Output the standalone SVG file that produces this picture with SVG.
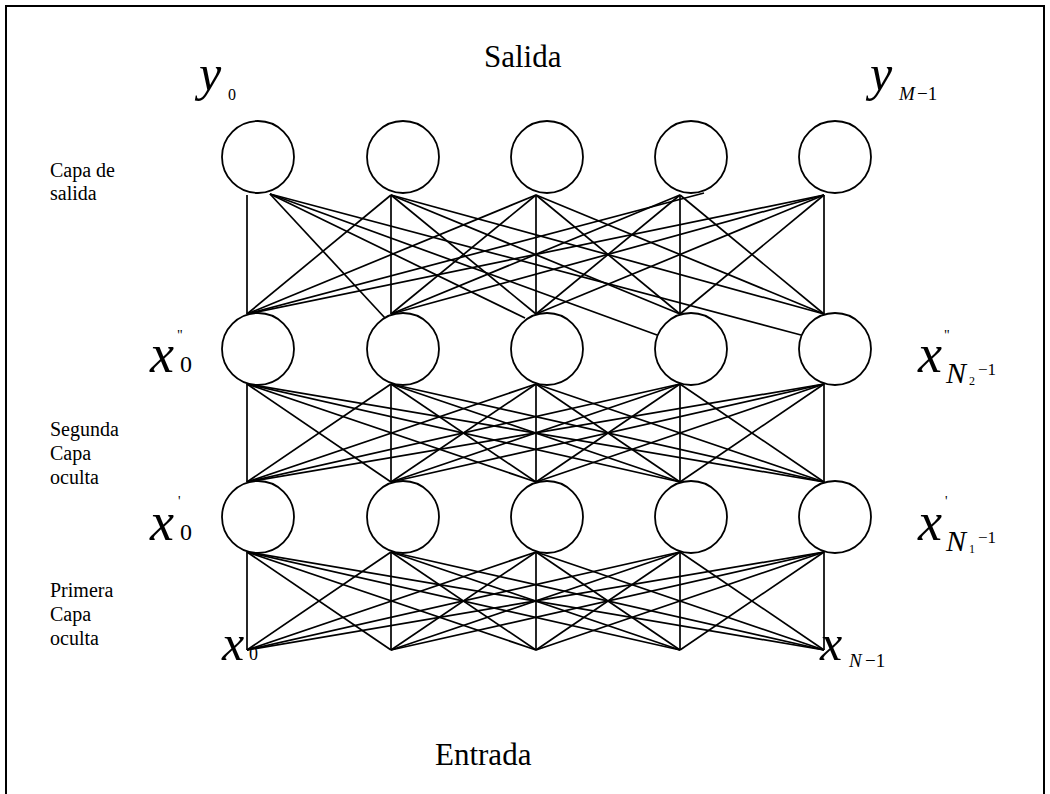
<svg xmlns="http://www.w3.org/2000/svg" width="1050" height="794" viewBox="0 0 1050 794">
<style>
.n{fill:#fff;stroke:#000;stroke-width:1.8}
.c line{stroke:#000;stroke-width:1.7}
.t{font-family:"Liberation Serif","Times New Roman",serif;fill:#000}
.i{font-style:italic}
</style>
<rect x="0" y="0" width="1050" height="794" fill="#fff"/>
<rect x="6" y="6" width="1038" height="800" fill="none" stroke="#000" stroke-width="2"/>
<g id="connectors" class="c">
<!-- output to second hidden -->
<line x1="247" y1="195" x2="247" y2="314"/>
<line x1="270" y1="194" x2="385" y2="318"/>
<line x1="270" y1="194" x2="525" y2="318"/>
<line x1="270" y1="194" x2="657" y2="335"/>
<line x1="270" y1="194" x2="801" y2="335"/>
<line x1="391" y1="195" x2="247" y2="314"/>
<line x1="391" y1="195" x2="391" y2="314"/>
<line x1="391" y1="195" x2="536" y2="314"/>
<line x1="391" y1="195" x2="680" y2="314"/>
<line x1="391" y1="195" x2="824" y2="314"/>
<line x1="536" y1="195" x2="247" y2="314"/>
<line x1="536" y1="195" x2="391" y2="314"/>
<line x1="536" y1="195" x2="536" y2="314"/>
<line x1="536" y1="195" x2="680" y2="314"/>
<line x1="536" y1="195" x2="824" y2="314"/>
<line x1="704" y1="193" x2="247" y2="314"/>
<line x1="680" y1="195" x2="391" y2="314"/>
<line x1="680" y1="195" x2="536" y2="314"/>
<line x1="680" y1="195" x2="680" y2="314"/>
<line x1="680" y1="195" x2="824" y2="314"/>
<line x1="824" y1="195" x2="247" y2="314"/>
<line x1="824" y1="195" x2="391" y2="314"/>
<line x1="824" y1="195" x2="536" y2="314"/>
<line x1="824" y1="195" x2="680" y2="314"/>
<line x1="824" y1="195" x2="824" y2="314"/>
<!-- second hidden to first hidden -->
<line x1="247" y1="384" x2="247" y2="482"/>
<line x1="247" y1="384" x2="391" y2="482"/>
<line x1="247" y1="384" x2="536" y2="482"/>
<line x1="247" y1="384" x2="680" y2="482"/>
<line x1="247" y1="384" x2="824" y2="482"/>
<line x1="391" y1="384" x2="247" y2="482"/>
<line x1="391" y1="384" x2="391" y2="482"/>
<line x1="391" y1="384" x2="536" y2="482"/>
<line x1="391" y1="384" x2="680" y2="482"/>
<line x1="391" y1="384" x2="824" y2="482"/>
<line x1="536" y1="384" x2="247" y2="482"/>
<line x1="536" y1="384" x2="391" y2="482"/>
<line x1="536" y1="384" x2="536" y2="482"/>
<line x1="536" y1="384" x2="680" y2="482"/>
<line x1="536" y1="384" x2="824" y2="482"/>
<line x1="680" y1="384" x2="247" y2="482"/>
<line x1="680" y1="384" x2="391" y2="482"/>
<line x1="680" y1="384" x2="536" y2="482"/>
<line x1="680" y1="384" x2="680" y2="482"/>
<line x1="680" y1="384" x2="824" y2="482"/>
<line x1="824" y1="384" x2="247" y2="482"/>
<line x1="824" y1="384" x2="391" y2="482"/>
<line x1="824" y1="384" x2="536" y2="482"/>
<line x1="824" y1="384" x2="680" y2="482"/>
<line x1="824" y1="384" x2="824" y2="482"/>
<!-- first hidden to input -->
<line x1="247" y1="552" x2="247" y2="650"/>
<line x1="247" y1="552" x2="391" y2="650"/>
<line x1="247" y1="552" x2="536" y2="650"/>
<line x1="247" y1="552" x2="680" y2="650"/>
<line x1="247" y1="552" x2="824" y2="650"/>
<line x1="391" y1="552" x2="247" y2="650"/>
<line x1="391" y1="552" x2="391" y2="650"/>
<line x1="391" y1="552" x2="536" y2="650"/>
<line x1="391" y1="552" x2="680" y2="650"/>
<line x1="391" y1="552" x2="824" y2="650"/>
<line x1="536" y1="552" x2="247" y2="650"/>
<line x1="536" y1="552" x2="391" y2="650"/>
<line x1="536" y1="552" x2="536" y2="650"/>
<line x1="536" y1="552" x2="680" y2="650"/>
<line x1="536" y1="552" x2="824" y2="650"/>
<line x1="680" y1="552" x2="247" y2="650"/>
<line x1="680" y1="552" x2="391" y2="650"/>
<line x1="680" y1="552" x2="536" y2="650"/>
<line x1="680" y1="552" x2="680" y2="650"/>
<line x1="680" y1="552" x2="824" y2="650"/>
<line x1="824" y1="552" x2="247" y2="650"/>
<line x1="824" y1="552" x2="391" y2="650"/>
<line x1="824" y1="552" x2="536" y2="650"/>
<line x1="824" y1="552" x2="680" y2="650"/>
<line x1="824" y1="552" x2="824" y2="650"/>
</g>
<g id="out0"><circle class="n" cx="258" cy="157" r="36"/></g>
<g id="out1"><circle class="n" cx="403" cy="157" r="36"/></g>
<g id="out2"><circle class="n" cx="547" cy="157" r="36"/></g>
<g id="out3"><circle class="n" cx="691" cy="157" r="36"/></g>
<g id="out4"><circle class="n" cx="835" cy="157" r="36"/></g>
<g id="h2n0"><circle class="n" cx="258" cy="349" r="36"/></g>
<g id="h2n1"><circle class="n" cx="403" cy="349" r="36"/></g>
<g id="h2n2"><circle class="n" cx="547" cy="349" r="36"/></g>
<g id="h2n3"><circle class="n" cx="691" cy="349" r="36"/></g>
<g id="h2n4"><circle class="n" cx="835" cy="349" r="36"/></g>
<g id="h1n0"><circle class="n" cx="258" cy="517" r="36"/></g>
<g id="h1n1"><circle class="n" cx="403" cy="517" r="36"/></g>
<g id="h1n2"><circle class="n" cx="547" cy="517" r="36"/></g>
<g id="h1n3"><circle class="n" cx="691" cy="517" r="36"/></g>
<g id="h1n4"><circle class="n" cx="835" cy="517" r="36"/></g>
<g id="labels" class="t">
<text x="484" y="67" font-size="31">Salida</text>
<text x="435" y="765" font-size="31">Entrada</text>
<text x="50" y="177" font-size="20">Capa de</text>
<text x="50" y="200" font-size="20">salida</text>
<text x="50" y="436" font-size="20">Segunda</text>
<text x="50" y="460" font-size="20">Capa</text>
<text x="50" y="484" font-size="20">oculta</text>
<text x="50" y="597" font-size="20">Primera</text>
<text x="50" y="621" font-size="20">Capa</text>
<text x="50" y="645" font-size="20">oculta</text>
<text x="199" y="90" font-size="50" class="i">y</text>
<text x="228" y="100" font-size="16">0</text>
<text x="870" y="90" font-size="50" class="i">y</text>
<text x="899" y="100" font-size="19" class="i">M</text>
<text x="917" y="100" font-size="19">−1</text>
<text x="150" y="372" font-size="54" class="i">x</text>
<text x="177" y="340" font-size="14">"</text>
<text x="180" y="372" font-size="24">0</text>
<text x="918" y="372" font-size="54" class="i">x</text>
<text x="944" y="340" font-size="14">"</text>
<text x="946" y="383" font-size="30" class="i">N</text>
<text x="969" y="385" font-size="12">2</text>
<text x="978" y="375" font-size="17">−1</text>
<text x="150" y="540" font-size="54" class="i">x</text>
<text x="178" y="506" font-size="14">'</text>
<text x="180" y="540" font-size="24">0</text>
<text x="918" y="540" font-size="54" class="i">x</text>
<text x="945" y="506" font-size="14">'</text>
<text x="946" y="551" font-size="30" class="i">N</text>
<text x="969" y="553" font-size="12">1</text>
<text x="978" y="543" font-size="17">−1</text>
<text x="222" y="660" font-size="50" class="i">x</text>
<text x="249" y="660" font-size="18">0</text>
<text x="820" y="660" font-size="50" class="i">x</text>
<text x="849" y="667" font-size="19" class="i">N</text>
<text x="865" y="667" font-size="19">−1</text>
</g>
</svg>
